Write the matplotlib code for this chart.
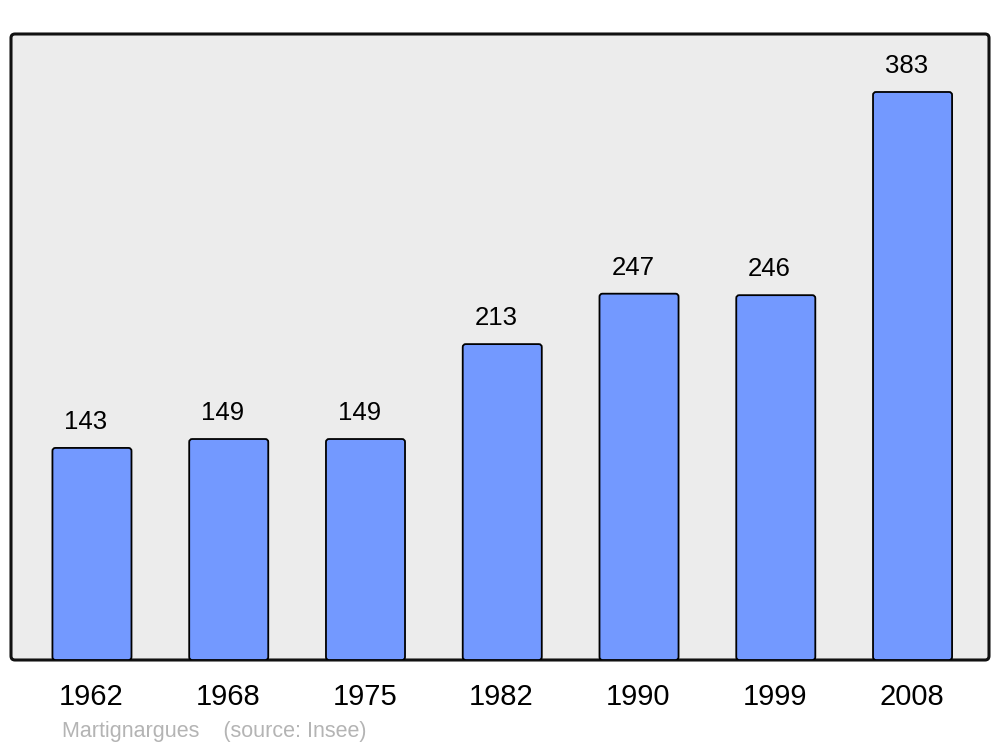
import matplotlib
matplotlib.use("Agg")
import matplotlib.pyplot as plt
from matplotlib.patches import FancyBboxPatch

years = ["1962", "1968", "1975", "1982", "1990", "1999", "2008"]
population = [143, 149, 149, 213, 247, 246, 383]
source_text = "Martignargues    (source: Insee)"

plt.rcParams['font.family'] = ['Liberation Sans', 'DejaVu Sans']

W, H = 1000, 747
fig = plt.figure(figsize=(W / 100, H / 100), dpi=100)
fig.patch.set_facecolor("white")

left, right, top, bottom = 11, 989, 34, 660
ax = fig.add_axes([left / W, (H - bottom) / H, (right - left) / W, (bottom - top) / H])
ax.set_facecolor("none")
ax.set_zorder(2)
for s in ax.spines.values():
    s.set_visible(False)

# frame with rounded corners
frame = FancyBboxPatch((left / W, (H - bottom) / H), (right - left) / W, (bottom - top) / H,
                       boxstyle="round,pad=0,rounding_size=0.004",
                       transform=fig.transFigure, facecolor="#ececec", edgecolor="#111111",
                       linewidth=2.2, zorder=-1, mutation_aspect=W / H)
fig.patches.append(frame)

x = list(range(len(years)))
ax.set_xlim(-0.592, 6.559)
ax.set_ylim(0, 422.1)
bars = ax.bar(x, population, width=0.578, color="#7399ff", edgecolor="black", linewidth=1.3)

# px per data unit
px_x = (right - left) / (6.559 + 0.592)
px_y = (bottom - top) / 422.1
for b in bars:
    b.set_visible(False)
    r = 3.0 / px_x
    p = FancyBboxPatch((b.get_x(), b.get_y()), b.get_width(), b.get_height(),
                       boxstyle=f"round,pad=0,rounding_size={r}",
                       mutation_aspect=px_x / px_y,
                       facecolor="#7399ff", edgecolor="black", linewidth=1.3, zorder=2)
    ax.add_patch(p)

for xi, v in zip(x, population):
    ax.text(xi - 0.045, v + 19 / px_y, str(v), ha="center", va="baseline", fontsize=18.5, color="black")

ax.set_xticks(x)
ax.set_xticklabels([])
ax.tick_params(length=0)
ax.set_yticks([])
for xi, yr in zip(x, years):
    ax.text(xi - 0.005, -(705 - bottom) / px_y, yr, ha="center", va="baseline", fontsize=21,
            color="black", clip_on=False)

fig.text(62 / W, (H - 737) / H, source_text, ha="left", va="baseline", fontsize=15.5, color="#b4b4b4")

fig.savefig("out.png", dpi=100)
